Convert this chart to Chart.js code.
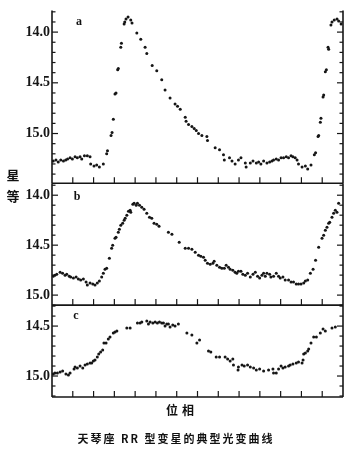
<!DOCTYPE html>
<html><head><meta charset="utf-8">
<script src="https://cdn.jsdelivr.net/npm/chart.js@4/dist/chart.umd.min.js"></script>
<style>
html,body{margin:0;padding:0;background:#fff;}
#wrap{position:relative;width:357px;height:453px;overflow:hidden;background:#fff;}
#c{position:absolute;left:0;top:0;}
.t{position:absolute;color:#111;white-space:nowrap;line-height:1;transform:translate(-50%,-50%);}
.lt{font-family:"Liberation Serif",serif;font-size:12px;font-weight:bold;}
.cj{font-family:"Noto Sans CJK SC",sans-serif;}
</style></head><body>
<div id="wrap">
<canvas id="c" width="357" height="453"></canvas>
<div class="t lt" style="left:79px;top:21px;">a</div>
<div class="t lt" style="left:77px;top:196px;">b</div>
<div class="t lt" style="left:76px;top:315px;">c</div>
<div class="t cj" style="left:13px;top:174px;font-size:13px;font-weight:bold;">星</div>
<div class="t cj" style="left:13px;top:195px;font-size:13px;font-weight:bold;">等</div>
<div class="t cj" style="left:182px;top:410px;font-size:12px;letter-spacing:4px;font-weight:bold;">位相</div>
<div class="t cj" style="left:176px;top:438px;font-size:11px;letter-spacing:2px;font-weight:bold;">天琴座 RR 型变星的典型光变曲线</div>
</div>
<script>
// Panel a
const phaseA = [0.006,0.019,0.030,0.042,0.055,0.066,0.075,0.087,0.098,0.111,0.122,0.135,0.143,0.156,0.170,0.183,0.186,0.202,0.215,0.228,0.247,0.263,0.267,0.284,0.289,0.295,0.303,0.308,0.316,0.319,0.331,0.334,0.347,0.350,0.356,0.366,0.379,0.385,0.408,0.427,0.448,0.456,0.482,0.504,0.528,0.544,
0.568,0.592,0.604,0.617,0.641,0.645,0.657,0.673,0.684,0.694,0.705,0.721,0.745,0.748,0.785,0.806,0.825,0.829,0.854,0.866,0.881,0.897,0.909,0.930,0.934,0.954,0.967,0.983,0.994,1.005,1.018,1.034,1.047,1.058,1.066,1.079,1.090,1.102,1.114,1.127,1.138,1.150,1.159,1.170,1.179,1.186,1.203,1.219,1.230,1.246,1.262,1.268,1.280,1.283,1.291,1.294,1.304,1.307,1.315,1.320,1.328,1.331,1.342,1.347,1.358,1.371,1.379,1.391];
const magA = [15.27,15.26,15.28,15.26,15.27,15.26,15.25,15.24,15.25,15.23,15.24,15.23,15.25,15.22,15.22,15.23,15.30,15.32,15.31,15.33,15.30,15.20,15.17,15.02,14.99,14.86,14.61,14.60,14.37,14.36,14.15,14.11,13.92,13.90,13.87,13.85,13.88,13.91,14.01,14.07,14.15,14.21,14.33,14.38,14.47,14.57,
14.65,14.71,14.73,14.76,14.84,14.88,14.91,14.93,14.95,14.97,15.00,15.02,15.03,15.07,15.14,15.16,15.21,15.26,15.24,15.27,15.30,15.26,15.24,15.29,15.33,15.29,15.27,15.29,15.28,15.30,15.27,15.29,15.28,15.27,15.26,15.25,15.26,15.24,15.24,15.23,15.24,15.22,15.23,15.24,15.26,15.30,15.33,15.32,15.35,15.31,15.21,15.19,15.03,15.02,14.89,14.85,14.64,14.62,14.39,14.37,14.15,14.17,13.93,13.90,13.88,13.87,13.89,13.92];
// Panel b
const phaseB = [0.006,0.014,0.023,0.039,0.051,0.063,0.071,0.083,0.090,0.103,0.116,0.127,0.138,0.151,0.164,0.170,0.183,0.196,0.207,0.218,0.228,0.239,0.247,0.255,0.263,0.276,0.287,0.292,0.303,0.308,0.319,0.324,0.331,0.340,0.347,0.352,0.360,0.368,0.376,0.379,0.389,0.395,0.405,0.411,0.421,0.432,0.443,0.456,0.469,0.480,0.491,0.504,0.515,0.560,0.577,0.612,
0.641,0.657,0.673,0.689,0.705,0.716,0.729,0.737,0.748,0.761,0.774,0.780,0.793,0.806,0.817,0.829,0.838,0.849,0.857,0.870,0.881,0.889,0.897,0.909,0.918,0.930,0.941,0.954,0.967,0.978,0.989,0.999,1.010,1.018,1.026,1.034,1.047,1.053,1.066,1.079,1.090,1.098,1.111,1.122,1.138,1.150,1.162,1.175,1.186,1.198,1.211,1.219,1.230,1.243,1.256,1.268,1.283,1.299,1.307,1.315,1.323,1.331,1.336,1.347,1.355,1.363,1.371,1.379];
const magB = [14.81,14.80,14.79,14.77,14.78,14.80,14.79,14.81,14.82,14.83,14.82,14.84,14.85,14.84,14.87,14.90,14.88,14.89,14.90,14.88,14.86,14.82,14.78,14.74,14.73,14.63,14.53,14.50,14.43,14.42,14.37,14.34,14.30,14.28,14.25,14.23,14.20,14.16,14.15,14.17,14.09,14.08,14.10,14.08,14.10,14.12,14.14,14.18,14.22,14.23,14.28,14.29,14.31,14.37,14.39,14.47,
14.53,14.53,14.54,14.57,14.60,14.61,14.62,14.65,14.68,14.69,14.68,14.66,14.70,14.72,14.73,14.73,14.70,14.72,14.74,14.75,14.77,14.78,14.76,14.76,14.79,14.80,14.78,14.82,14.79,14.77,14.81,14.83,14.80,14.78,14.81,14.78,14.79,14.82,14.81,14.78,14.81,14.83,14.82,14.85,14.85,14.87,14.87,14.89,14.89,14.89,14.88,14.86,14.85,14.78,14.74,14.65,14.52,14.43,14.40,14.35,14.32,14.28,14.27,14.22,14.18,14.15,14.17,14.08];
// Panel c
const phaseC = [0.006,0.014,0.026,0.039,0.051,0.067,0.079,0.087,0.106,0.111,0.122,0.135,0.148,0.159,0.170,0.183,0.191,0.199,0.207,0.218,0.225,0.234,0.244,0.250,0.260,0.271,0.279,0.295,0.303,0.312,0.360,0.376,0.411,0.424,0.432,0.456,0.464,0.472,0.485,0.496,0.507,0.517,0.528,0.536,0.544,0.552,0.560,0.568,0.581,0.592,0.608,
0.649,0.673,0.697,0.710,0.753,0.764,0.790,0.806,0.833,0.845,0.857,0.870,0.873,0.895,0.897,0.914,0.925,0.941,0.954,0.970,0.983,0.999,1.018,1.042,1.063,1.066,1.079,1.090,1.102,1.111,1.122,1.138,1.146,1.159,1.175,1.186,1.203,1.208,1.211,1.219,1.230,1.235,1.246,1.259,1.272,1.291,1.304,1.315,1.347,1.363];
const magC = [14.98,14.97,14.97,14.96,14.95,14.98,14.99,14.97,14.93,14.91,14.92,14.90,14.92,14.89,14.88,14.87,14.87,14.85,14.84,14.81,14.78,14.76,14.74,14.67,14.67,14.63,14.61,14.57,14.56,14.55,14.52,14.52,14.47,14.47,14.46,14.45,14.48,14.46,14.47,14.46,14.47,14.46,14.47,14.47,14.50,14.48,14.48,14.51,14.49,14.50,14.48,
14.57,14.59,14.67,14.64,14.75,14.76,14.81,14.81,14.81,14.83,14.85,14.83,14.89,14.94,14.91,14.89,14.90,14.89,14.91,14.92,14.94,14.93,14.95,14.94,14.93,14.97,14.97,14.93,14.90,14.92,14.91,14.90,14.89,14.88,14.87,14.86,14.87,14.84,14.78,14.77,14.75,14.73,14.67,14.61,14.61,14.57,14.53,14.55,14.52,14.51];

// Tick labels / ranges
const yTicksA = [14.0, 14.5, 15.0];
const yTicksB = [14.0, 14.5, 15.0];
const yTicksC = [14.5, 15.0];
const rangeA = [13.786, 15.49];
const rangeB = [13.88, 15.10];
const rangeC = [14.29, 15.21];
const phaseRange = [0, 1.4];
const xTickStep = 0.1;
const yMinorStep = 0.1;

const toXY = (xs, ys) => xs.map((x, i) => ({x: x, y: ys[i]}));
const INK = '#161616';

function yScale(range, ticksArr, weight) {
  return {
    type: 'linear', position: 'left', stack: 'mag', stackWeight: weight,
    reverse: true, min: range[0], max: range[1],
    afterBuildTicks: s => { s.ticks = ticksArr.map(v => ({value: v})); },
    afterFit: s => { s.width = 52; },
    grid: {display: false, drawTicks: false},
    border: {display: false},
    ticks: {padding: 2, color: INK, font: {family: "'Liberation Serif', 'Times New Roman', serif", size: 14, weight: 'bold'},
            callback: v => Number(v).toFixed(1)}
  };
}

const framePlugin = {
  id: 'frame',
  afterDatasetsDraw(chart) {
    const ctx = chart.ctx, xs = chart.scales.x;
    const L = chart.chartArea.left, R = chart.chartArea.right;
    const seg = (a, b, c, d) => { ctx.beginPath(); ctx.moveTo(a, b); ctx.lineTo(c, d); ctx.stroke(); };
    ctx.save();
    ctx.strokeStyle = INK;
    [['ya', yTicksA], ['yb', yTicksB], ['yc', yTicksC]].forEach(([id, maj]) => {
      const s = chart.scales[id];
      const top = s.top, bot = s.bottom;
      ctx.lineWidth = 1.6;
      seg(L, top, L, bot);
      seg(R, top, R, bot);
      seg(L, bot, R, bot);
      ctx.lineWidth = 1.2;
      for (let k = 1; k * xTickStep < phaseRange[1] - 1e-6; k++) {
        const px = xs.getPixelForValue(phaseRange[0] + k * xTickStep);
        seg(px, bot, px, bot - 6);
      }
      const lo = Math.ceil(Math.min(s.min, s.max) * 10 - 1e-6);
      const hi = Math.floor(Math.max(s.min, s.max) * 10 + 1e-6);
      for (let k = lo; k <= hi; k++) {
        const v = k * yMinorStep;
        const py = s.getPixelForValue(v);
        const isMaj = maj.some(m => Math.abs(m - v) < 1e-6);
        const len = isMaj ? 6 : 3.5;
        seg(L, py, L + len, py);
        seg(R, py, R - len, py);
      }
    });
    ctx.restore();
  }
};

const pt = {pointRadius: 1.5, pointHoverRadius: 1.5, pointBackgroundColor: INK, pointBorderWidth: 0, showLine: false};

new Chart(document.getElementById('c'), {
  type: 'scatter',
  data: {datasets: [
    Object.assign({data: toXY(phaseA, magA), yAxisID: 'ya', xAxisID: 'x'}, pt),
    Object.assign({data: toXY(phaseB, magB), yAxisID: 'yb', xAxisID: 'x'}, pt),
    Object.assign({data: toXY(phaseC, magC), yAxisID: 'yc', xAxisID: 'x'}, pt)
  ]},
  options: {
    responsive: false, animation: false, devicePixelRatio: 1,
    layout: {padding: {left: 0, right: 14, top: 10, bottom: 56}},
    plugins: {legend: {display: false}, tooltip: {enabled: false}},
    scales: {
      x: {type: 'linear', min: phaseRange[0], max: phaseRange[1], display: false},
      yc: yScale(rangeC, yTicksC, 92),
      yb: yScale(rangeB, yTicksB, 122),
      ya: yScale(rangeA, yTicksA, 173)
    }
  },
  plugins: [framePlugin]
});
</script>
</body></html>
